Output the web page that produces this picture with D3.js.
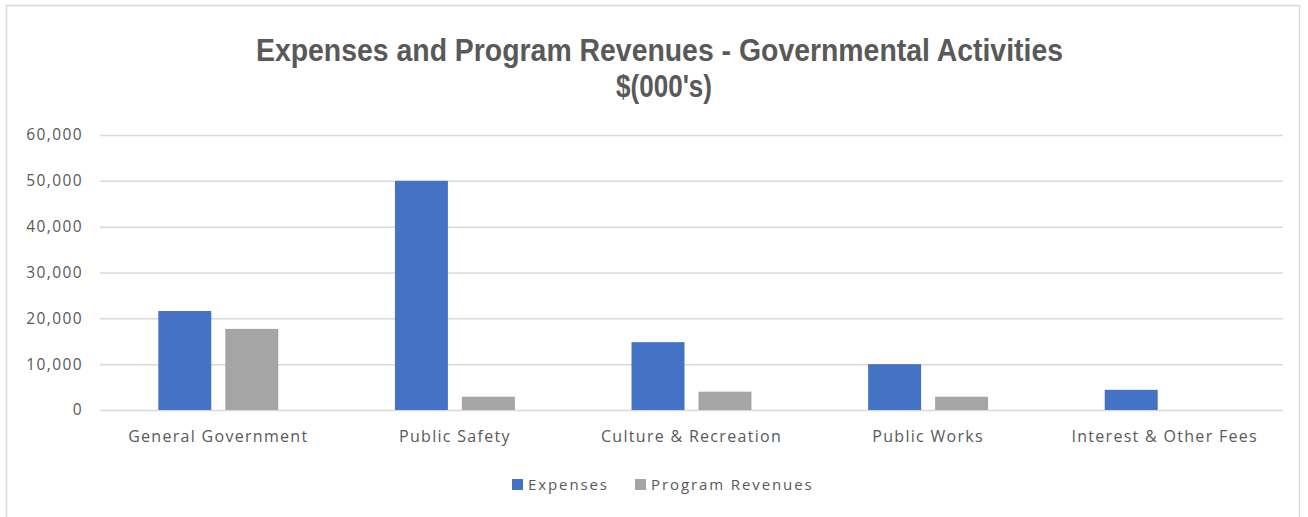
<!DOCTYPE html>
<html>
<head>
<meta charset="utf-8">
<script src="https://cdn.jsdelivr.net/npm/d3@7"></script>
<style>
  body { margin: 0; background: #fff; }
  text { fill: #595959; }
</style>
</head>
<body>
<script>
// data, $(000's)
var categories = ["General Government", "Public Safety", "Culture & Recreation", "Public Works", "Interest & Other Fees"];
var seriesNames = ["Expenses", "Program Revenues"];
var expenses = [21600, 50000, 14800, 10000, 4400];
var programRevenues = [17700, 2900, 4000, 2900, 0];
var yTicks = [0, 10000, 20000, 30000, 40000, 50000, 60000];
var colors = ["#4472C4", "#A5A5A5"];

var width = 1308,
    height = 517;

var svg = d3.select("body").append("svg")
    .attr("width", width)
    .attr("height", height)

// chart area border
svg.append("rect")
    .attr("x", 6.5)
    .attr("y", 5.5)
    .attr("width", 1293)
    .attr("height", 530)
    .attr("fill", "#fff")
    .attr("stroke", "#d9d9d9")
    .attr("stroke-width", 1.5)

// title, two lines
svg.append("text")
    .attr("x", 659.5)
    .attr("y", 61)
    .attr("text-anchor", "middle")
    .attr("textLength", 807)
    .attr("lengthAdjust", "spacingAndGlyphs")
    .style("font-family", "'Liberation Sans', Arial, sans-serif")
    .style("font-weight", "bold")
    .style("font-size", "31px")
    .text("Expenses and Program Revenues - Governmental Activities")

svg.append("text")
    .attr("x", 664)
    .attr("y", 97)
    .attr("text-anchor", "middle")
    .attr("textLength", 96)
    .attr("lengthAdjust", "spacingAndGlyphs")
    .style("font-family", "'Liberation Sans', Arial, sans-serif")
    .style("font-weight", "bold")
    .style("font-size", "31px")
    .text("$(000's)")

var x = d3.scaleBand()
    .domain(categories)
    .range([100, 1283])
    .paddingInner(0.493)
    .paddingOuter(0.2465)

var xSub = d3.scaleBand()
    .domain(seriesNames)
    .range([0, x.bandwidth()])
    .paddingInner(0.209)

var y = d3.scaleLinear()
    .domain([0, 60000])
    .range([410, 135])

/* y axis with gridlines */
var yAxis = svg.append("g")
    .attr("transform", "translate(100,0)")
    .call(d3.axisLeft(y)
        .tickValues(yTicks)
        .tickFormat(d3.format(","))
        .tickSize(-(1283 - 100))
        .tickPadding(18))
yAxis.select(".domain").remove()
yAxis.selectAll("line")
    .attr("stroke", "#d9d9d9")
    .attr("stroke-width", 1.5)
yAxis.selectAll("text")
    .style("font-family", "'Open Sans', sans-serif")
    .style("font-size", "15.5px")
    .style("letter-spacing", "1.4px")
    .attr("dx", 1)

/* bars */
var series = [expenses, programRevenues];
var groups = svg.selectAll("g.series")
    .data(series)
    .enter()
    .append("g")
    .attr("class", "series")
    .attr("fill", function (d, i) { return colors[i] })

groups.each(function (vals, si) {
    d3.select(this).selectAll("rect")
        .data(vals)
        .enter()
        .append("rect")
        .attr("x", function (d, i) { return x(categories[i]) + xSub(seriesNames[si]) })
        .attr("width", xSub.bandwidth())
        .attr("y", function (d) { return y(d) })
        .attr("height", function (d) { return y(0) - y(d) })
})

/* x axis labels */
var xAxis = svg.append("g")
    .attr("transform", "translate(0,410)")
    .call(d3.axisBottom(x).tickSize(0).tickPadding(21))
xAxis.select(".domain").remove()
xAxis.selectAll("text")
    .style("font-family", "'Open Sans', sans-serif")
    .style("font-size", "16px")
    .style("letter-spacing", "1.3px")

/* legend */
var legendX = [512, 635];
var legend = svg.selectAll("g.legend")
    .data(seriesNames)
    .enter()
    .append("g")
    .attr("class", "legend")
    .attr("transform", function (d, i) { return "translate(" + legendX[i] + ",479)" })

legend.append("rect")
    .attr("width", 11)
    .attr("height", 11)
    .attr("fill", function (d, i) { return colors[i] })

legend.append("text")
    .attr("x", 16)
    .attr("y", 11)
    .style("font-family", "'Open Sans', sans-serif")
    .style("font-size", "15px")
    .style("letter-spacing", "1.9px")
    .text(function (d) { return d })
</script>
</body>
</html>
